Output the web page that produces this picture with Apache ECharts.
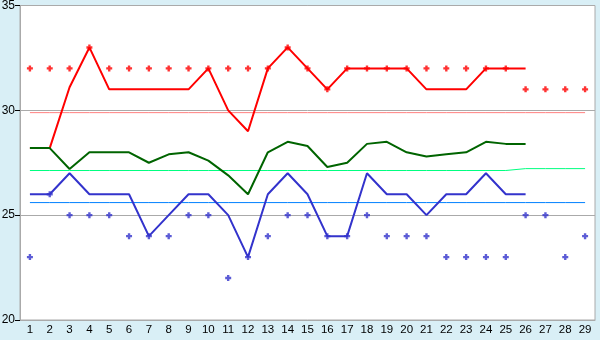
<!DOCTYPE html>
<html><head><meta charset="utf-8">
<script src="https://cdn.jsdelivr.net/npm/echarts@6/dist/echarts.min.js"></script>
<style>html,body{margin:0;padding:0;background:#d9eff6}#c{width:600px;height:340px}</style>
</head><body><div id="c"></div>
<script>
var days = ['1','2','3','4','5','6','7','8','9','10','11','12','13','14','15','16','17','18','19','20','21','22','23','24','25','26','27','28','29'];
var yTicks = [20, 25, 30, 35];
var maxDots = [32,32,32,33,32,32,32,32,32,32,32,32,32,33,32,31,32,32,32,32,32,32,32,32,32,31,31,31,31];
var minDots = [23,26,25,25,25,24,24,24,25,25,22,23,24,25,25,24,24,25,24,24,24,23,23,23,23,25,25,23,24];
var redLine = [28.2,28.2,31.1,33,31,31,31,31,31,32,30,29,32,33,32,31,32,32,32,32,31,31,31,32,32,32];
var greenLine = [28.2,28.2,27.2,28,28,28,27.5,27.9,28,27.6,26.9,26,28,28.5,28.3,27.3,27.5,28.4,28.5,28,27.8,27.9,28,28.5,28.4,28.4];
var blueLine = [26,26,27,26,26,26,24,25,26,26,25,23,26,27,26,24,24,27,26,26,25,26,26,27,26,26];
var redRef = [29.89,29.89,29.89,29.89,29.89,29.89,29.89,29.89,29.89,29.89,29.89,29.89,29.89,29.89,29.89,29.89,29.89,29.89,29.89,29.89,29.89,29.89,29.89,29.89,29.89,29.89,29.89,29.89,29.89];
var greenRef = [27.13,27.13,27.13,27.13,27.13,27.13,27.13,27.13,27.13,27.13,27.13,27.13,27.13,27.13,27.13,27.13,27.13,27.13,27.13,27.13,27.13,27.13,27.13,27.13,27.13,27.22,27.22,27.22,27.22];
var blueRef = [25.6,25.6,25.6,25.6,25.6,25.6,25.6,25.6,25.6,25.6,25.6,25.6,25.6,25.6,25.6,25.6,25.6,25.6,25.6,25.6,25.6,25.6,25.6,25.6,25.6,25.6,25.6,25.6,25.6];

var plus = 'path://M1.5,0H3.5V1.5H5V3.5H3.5V5H1.5V3.5H0V1.5H1.5Z';
function ref(d, c){ return {type:'line', data:d, symbol:'none', silent:true, lineStyle:{width:1,color:c}, z:1}; }
function ln(d, c, z){ return {type:'line', data:d, symbol:'none', silent:true, lineStyle:{width:2,color:c}, z:z}; }
function dots(d, c){ return {type:'scatter', data:d, symbol:plus, symbolSize:6, itemStyle:{color:c}, silent:true, z:10}; }

var chart = echarts.init(document.getElementById('c'), null, {renderer:'canvas'});
chart.setOption({
  animation:false,
  backgroundColor:'#d9eff6',
  grid:{left:20, right:5, top:5.5, bottom:20, show:true, containLabel:false, outerBoundsMode:'none', backgroundColor:'#ffffff', borderColor:'#aaaaaa', borderWidth:1},
  xAxis:{type:'category', data:days, boundaryGap:true,
    axisLine:{lineStyle:{color:'#aaaaaa'}},
    axisTick:{alignWithLabel:true, interval:0, length:5, lineStyle:{color:'#000'}},
    axisLabel:{color:'#000', fontSize:11.5, fontFamily:'Liberation Sans', margin:4, interval:0}},
  yAxis:{type:'value', min:yTicks[0], max:yTicks[yTicks.length-1], interval:5,
    axisLine:{show:true, lineStyle:{color:'#aaaaaa'}},
    axisTick:{show:true, inside:false, length:5, lineStyle:{color:'#000'}},
    axisLabel:{color:'#000', fontSize:12, fontFamily:'Liberation Sans', margin:5},
    splitLine:{show:true, lineStyle:{color:'#aaaaaa', width:1}}},
  series:[
    ref(redRef,'#ff8080'), ref(greenRef,'#00ff80'), ref(blueRef,'#0080ff'),
    ln(redLine,'#ff0000',3), ln(greenLine,'#006400',4), ln(blueLine,'#3333cc',5),
    dots(maxDots,'#ff0000'), dots(minDots,'#3333cc')
  ]
});
</script></body></html>
